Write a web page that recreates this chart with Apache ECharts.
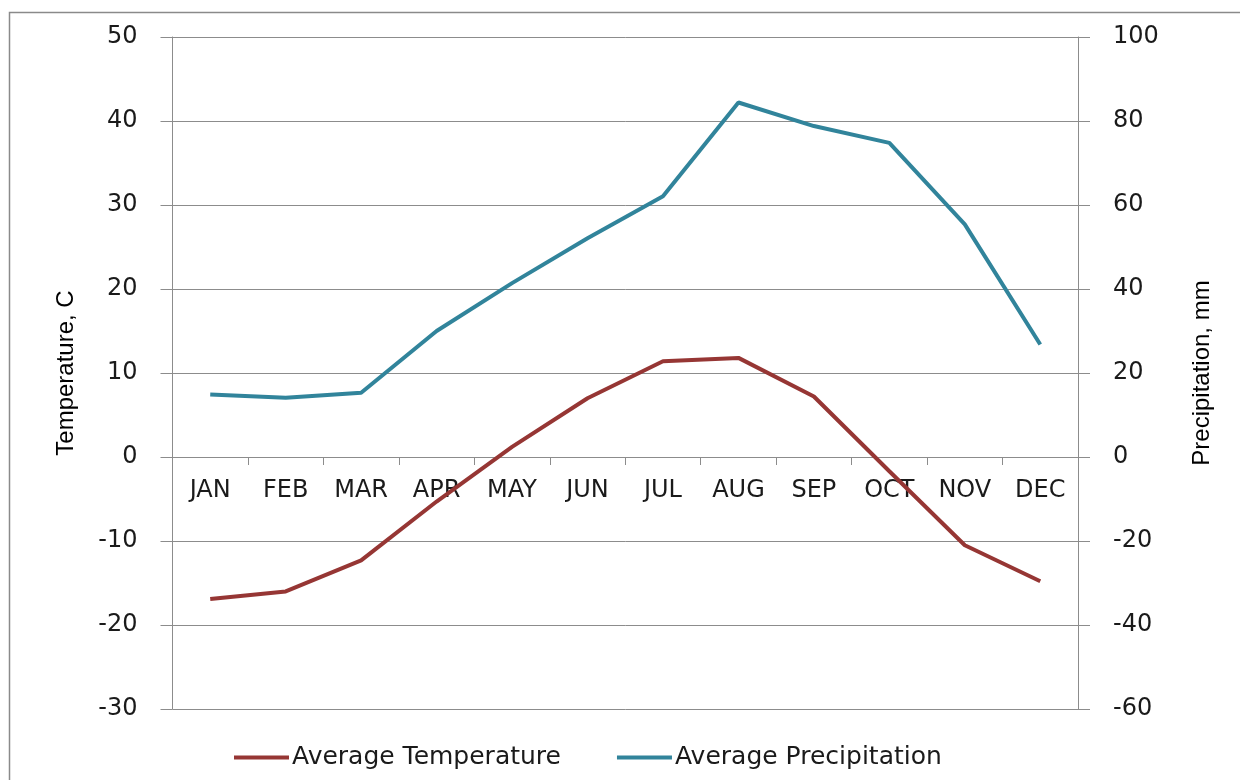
<!DOCTYPE html>
<html>
<head>
<meta charset="utf-8">
<script src="https://cdn.jsdelivr.net/npm/echarts@6/dist/echarts.min.js"></script>
<style>
html,body{margin:0;padding:0;background:#fff;}
#chart{width:1240px;height:780px;}
</style>
</head>
<body>
<div id="chart"></div>
<script>
var months = ['JAN','FEB','MAR','APR','MAY','JUN','JUL','AUG','SEP','OCT','NOV','DEC'];
var avgTemperature = [-16.9, -16.0, -12.3, -5.3, 1.2, 7.0, 11.4, 11.8, 7.2, -1.7, -10.5, -14.8];
var avgPrecipitation = [14.9, 14.1, 15.3, 30.0, 41.4, 52.1, 62.1, 84.4, 78.8, 74.8, 55.4, 26.8];
var tempTicks = {min: -30, max: 50, interval: 10};
var precTicks = {min: -60, max: 100, interval: 20};

var axisGray = '#8c8c8c';
var textColor = '#1a1a1a';
var tickFont = 'DejaVu Sans';

var gridTop = 37, gridBottom = 71, gridHeight = 780 - gridTop - gridBottom;
// place the category axis on the zero line of the temperature axis
var zeroOffset = -gridHeight * (0 - tempTicks.min) / (tempTicks.max - tempTicks.min);

var chart = echarts.init(document.getElementById('chart'), null, {renderer: 'canvas'});
chart.setOption({
  backgroundColor: '#ffffff',
  animation: false,
  graphic: [{
    type: 'rect',
    shape: {x: 9.5, y: 12.5, width: 1250, height: 800},
    style: {fill: 'none', stroke: '#8a8a8a', lineWidth: 1.5},
    silent: true
  }],
  grid: {left: 172.5, right: 162, top: gridTop, bottom: gridBottom, containLabel: false},
  legend: {
    left: 229, top: 740,
    itemWidth: 55, itemHeight: 4, itemGap: 56,
    icon: 'rect',
    textStyle: {fontFamily: tickFont, fontSize: 25, color: textColor, padding: [0, 0, 0, -2]},
    data: ['Average Temperature', 'Average Precipitation']
  },
  xAxis: {
    type: 'category',
    data: months,
    boundaryGap: true,
    position: 'bottom',
    offset: zeroOffset,
    axisLine: {onZero: false, lineStyle: {color: axisGray, width: 1}},
    axisTick: {show: true, length: 8, inside: false, lineStyle: {color: axisGray}},
    axisLabel: {margin: 22, fontFamily: tickFont, fontSize: 24, color: textColor},
    splitLine: {show: false}
  },
  yAxis: [{
    type: 'value',
    min: tempTicks.min, max: tempTicks.max, interval: tempTicks.interval,
    position: 'left',
    name: 'Temperature, C',
    nameLocation: 'middle',
    nameGap: 94,
    nameTextStyle: {fontFamily: 'Liberation Sans', fontSize: 24, color: '#000'},
    axisLine: {show: true, onZero: false, lineStyle: {color: axisGray, width: 1}},
    axisTick: {show: true, length: 12, lineStyle: {color: axisGray}},
    axisLabel: {margin: 35, fontFamily: tickFont, fontSize: 24, color: textColor},
    splitLine: {show: true, lineStyle: {color: axisGray, width: 1}}
  }, {
    type: 'value',
    min: precTicks.min, max: precTicks.max, interval: precTicks.interval,
    position: 'right',
    name: 'Precipitation, mm',
    nameLocation: 'middle',
    nameGap: 112,
    nameRotate: 90,
    nameTextStyle: {fontFamily: 'Liberation Sans', fontSize: 24, color: '#000'},
    axisLine: {show: true, onZero: false, lineStyle: {color: axisGray, width: 1}},
    axisTick: {show: true, length: 12, lineStyle: {color: axisGray}},
    axisLabel: {margin: 35, fontFamily: tickFont, fontSize: 24, color: textColor},
    splitLine: {show: false}
  }],
  series: [{
    name: 'Average Temperature',
    type: 'line',
    yAxisIndex: 0,
    data: avgTemperature,
    symbol: 'none',
    lineStyle: {color: '#963634', width: 4},
    itemStyle: {color: '#963634'}
  }, {
    name: 'Average Precipitation',
    type: 'line',
    yAxisIndex: 1,
    data: avgPrecipitation,
    symbol: 'none',
    lineStyle: {color: '#31849b', width: 4},
    itemStyle: {color: '#31849b'}
  }]
});
</script>
</body>
</html>
